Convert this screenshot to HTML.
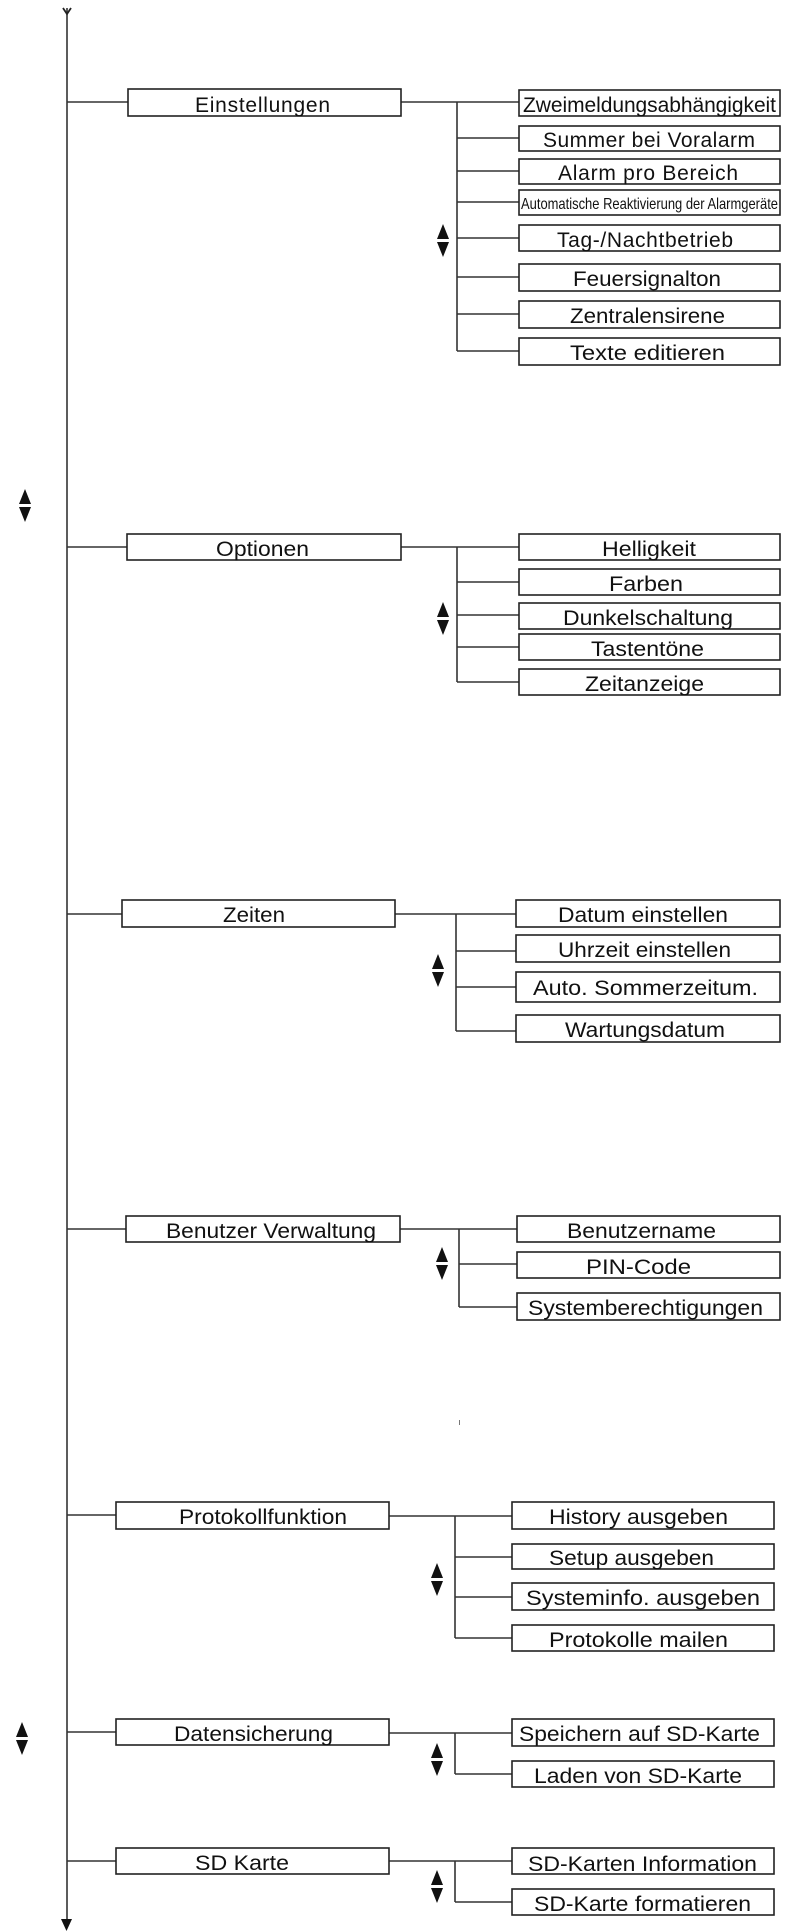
<!DOCTYPE html>
<html><head><meta charset="utf-8"><style>
html,body{margin:0;padding:0;background:#fff;}
svg{display:block;}
text{font-family:"Liberation Sans",Arial,sans-serif;font-size:21px;fill:#111;text-anchor:start;}
.b{fill:#fff;stroke:#222;stroke-width:1.6;}
.l{stroke:#333;stroke-width:1.6;fill:none;}
</style></head><body>
<svg width="790" height="1932" viewBox="0 0 790 1932" xmlns="http://www.w3.org/2000/svg">
<defs>
<g id="ud"><polygon points="-6,-1 0,-16 6,-1" fill="#111"/><polygon points="-6,2 0,17 6,2" fill="#111"/></g>
</defs>
<!-- trunk -->
<line class="l" x1="67" y1="8" x2="67" y2="1922"/>
<polyline points="63,8 67,14 71,8" fill="none" stroke="#222" stroke-width="1.8"/>
<polygon points="61,1919 72,1919 66.5,1931" fill="#111"/>
<use href="#ud" x="25" y="505"/>
<use href="#ud" x="22" y="1738"/>
<rect x="459" y="1420" width="1" height="5" fill="#777"/>

<!-- Einstellungen -->
<line class="l" x1="67" y1="102" x2="128" y2="102"/>
<line class="l" x1="401" y1="102" x2="519" y2="102"/>
<line class="l" x1="457" y1="102" x2="457" y2="351"/>
<line class="l" x1="457" y1="138" x2="519" y2="138"/>
<line class="l" x1="457" y1="171" x2="519" y2="171"/>
<line class="l" x1="457" y1="202" x2="519" y2="202"/>
<line class="l" x1="457" y1="238" x2="519" y2="238"/>
<line class="l" x1="457" y1="277" x2="519" y2="277"/>
<line class="l" x1="457" y1="314" x2="519" y2="314"/>
<line class="l" x1="457" y1="351" x2="519" y2="351"/>
<use href="#ud" x="443" y="240"/>
<rect class="b" x="128" y="89" width="273" height="27"/><text x="195" y="112" textLength="135">Einstellungen</text>
<rect class="b" x="519" y="90" width="261" height="26"/><text x="523" y="112" textLength="253">Zweimeldungsabhängigkeit</text>
<rect class="b" x="519" y="126" width="261" height="25"/><text x="543" y="147" textLength="212">Summer bei Voralarm</text>
<rect class="b" x="519" y="159" width="261" height="25"/><text x="558" y="180" textLength="180">Alarm pro Bereich</text>
<rect class="b" x="519" y="190" width="261" height="25"/><text x="521" y="209" style="font-size:16px" textLength="257" lengthAdjust="spacingAndGlyphs">Automatische Reaktivierung der Alarmgeräte</text>
<rect class="b" x="519" y="225" width="261" height="26"/><text x="557" y="247" textLength="176">Tag-/Nachtbetrieb</text>
<rect class="b" x="519" y="264" width="261" height="27"/><text x="573" y="286" textLength="148" lengthAdjust="spacingAndGlyphs">Feuersignalton</text>
<rect class="b" x="519" y="301" width="261" height="27"/><text x="570" y="323" textLength="155" lengthAdjust="spacingAndGlyphs">Zentralensirene</text>
<rect class="b" x="519" y="338" width="261" height="27"/><text x="570" y="360" textLength="155" lengthAdjust="spacingAndGlyphs">Texte editieren</text>

<!-- Optionen -->
<line class="l" x1="67" y1="547" x2="127" y2="547"/>
<line class="l" x1="401" y1="547" x2="519" y2="547"/>
<line class="l" x1="457" y1="547" x2="457" y2="682"/>
<line class="l" x1="457" y1="582" x2="519" y2="582"/>
<line class="l" x1="457" y1="615" x2="519" y2="615"/>
<line class="l" x1="457" y1="647" x2="519" y2="647"/>
<line class="l" x1="457" y1="682" x2="519" y2="682"/>
<use href="#ud" x="443" y="618"/>
<rect class="b" x="127" y="534" width="274" height="26"/><text x="216" y="556" textLength="93" lengthAdjust="spacingAndGlyphs">Optionen</text>
<rect class="b" x="519" y="534" width="261" height="26"/><text x="602" y="556" textLength="94" lengthAdjust="spacingAndGlyphs">Helligkeit</text>
<rect class="b" x="519" y="569" width="261" height="26"/><text x="609" y="591" textLength="74" lengthAdjust="spacingAndGlyphs">Farben</text>
<rect class="b" x="519" y="603" width="261" height="26"/><text x="563" y="625" textLength="170" lengthAdjust="spacingAndGlyphs">Dunkelschaltung</text>
<rect class="b" x="519" y="634" width="261" height="26"/><text x="591" y="656" textLength="113" lengthAdjust="spacingAndGlyphs">Tastentöne</text>
<rect class="b" x="519" y="669" width="261" height="26"/><text x="585" y="691" textLength="119" lengthAdjust="spacingAndGlyphs">Zeitanzeige</text>

<!-- Zeiten -->
<line class="l" x1="67" y1="914" x2="122" y2="914"/>
<line class="l" x1="395" y1="914" x2="516" y2="914"/>
<line class="l" x1="456" y1="914" x2="456" y2="1031"/>
<line class="l" x1="456" y1="951" x2="516" y2="951"/>
<line class="l" x1="456" y1="987" x2="516" y2="987"/>
<line class="l" x1="456" y1="1031" x2="516" y2="1031"/>
<use href="#ud" x="438" y="970"/>
<rect class="b" x="122" y="900" width="273" height="27"/><text x="223" y="922" textLength="62" lengthAdjust="spacingAndGlyphs">Zeiten</text>
<rect class="b" x="516" y="900" width="264" height="27"/><text x="558" y="922" textLength="170" lengthAdjust="spacingAndGlyphs">Datum einstellen</text>
<rect class="b" x="516" y="935" width="264" height="27"/><text x="558" y="957" textLength="173" lengthAdjust="spacingAndGlyphs">Uhrzeit einstellen</text>
<rect class="b" x="516" y="972" width="264" height="30"/><text x="533" y="995" textLength="225" lengthAdjust="spacingAndGlyphs">Auto. Sommerzeitum.</text>
<rect class="b" x="516" y="1015" width="264" height="27"/><text x="565" y="1037" textLength="160" lengthAdjust="spacingAndGlyphs">Wartungsdatum</text>

<!-- Benutzer Verwaltung -->
<line class="l" x1="67" y1="1229" x2="126" y2="1229"/>
<line class="l" x1="400" y1="1229" x2="517" y2="1229"/>
<line class="l" x1="459" y1="1229" x2="459" y2="1307"/>
<line class="l" x1="459" y1="1264" x2="517" y2="1264"/>
<line class="l" x1="459" y1="1307" x2="517" y2="1307"/>
<use href="#ud" x="442" y="1263"/>
<rect class="b" x="126" y="1216" width="274" height="26"/><text x="166" y="1238" textLength="210" lengthAdjust="spacingAndGlyphs">Benutzer Verwaltung</text>
<rect class="b" x="517" y="1216" width="263" height="26"/><text x="567" y="1238" textLength="149" lengthAdjust="spacingAndGlyphs">Benutzername</text>
<rect class="b" x="517" y="1252" width="263" height="26"/><text x="586" y="1274" textLength="105" lengthAdjust="spacingAndGlyphs">PIN-Code</text>
<rect class="b" x="517" y="1293" width="263" height="27"/><text x="528" y="1315" textLength="235" lengthAdjust="spacingAndGlyphs">Systemberechtigungen</text>

<!-- Protokollfunktion -->
<line class="l" x1="67" y1="1515" x2="116" y2="1515"/>
<line class="l" x1="389" y1="1516" x2="512" y2="1516"/>
<line class="l" x1="455" y1="1516" x2="455" y2="1638"/>
<line class="l" x1="455" y1="1557" x2="512" y2="1557"/>
<line class="l" x1="455" y1="1597" x2="512" y2="1597"/>
<line class="l" x1="455" y1="1638" x2="512" y2="1638"/>
<use href="#ud" x="437" y="1579"/>
<rect class="b" x="116" y="1502" width="273" height="27"/><text x="179" y="1524" textLength="168" lengthAdjust="spacingAndGlyphs">Protokollfunktion</text>
<rect class="b" x="512" y="1502" width="262" height="27"/><text x="549" y="1524" textLength="179" lengthAdjust="spacingAndGlyphs">History ausgeben</text>
<rect class="b" x="512" y="1544" width="262" height="25"/><text x="549" y="1565" textLength="165" lengthAdjust="spacingAndGlyphs">Setup ausgeben</text>
<rect class="b" x="512" y="1583" width="262" height="27"/><text x="526" y="1605" textLength="234" lengthAdjust="spacingAndGlyphs">Systeminfo. ausgeben</text>
<rect class="b" x="512" y="1625" width="262" height="26"/><text x="549" y="1647" textLength="179" lengthAdjust="spacingAndGlyphs">Protokolle mailen</text>

<!-- Datensicherung -->
<line class="l" x1="67" y1="1732" x2="116" y2="1732"/>
<line class="l" x1="389" y1="1733" x2="512" y2="1733"/>
<line class="l" x1="455" y1="1733" x2="455" y2="1774"/>
<line class="l" x1="455" y1="1774" x2="512" y2="1774"/>
<use href="#ud" x="437" y="1759"/>
<rect class="b" x="116" y="1719" width="273" height="26"/><text x="174" y="1741" textLength="159" lengthAdjust="spacingAndGlyphs">Datensicherung</text>
<rect class="b" x="512" y="1719" width="262" height="27"/><text x="519" y="1741" textLength="241" lengthAdjust="spacingAndGlyphs">Speichern auf SD-Karte</text>
<rect class="b" x="512" y="1761" width="262" height="26"/><text x="534" y="1783" textLength="208" lengthAdjust="spacingAndGlyphs">Laden von SD-Karte</text>

<!-- SD Karte -->
<line class="l" x1="67" y1="1861" x2="116" y2="1861"/>
<line class="l" x1="389" y1="1861" x2="512" y2="1861"/>
<line class="l" x1="455" y1="1861" x2="455" y2="1902"/>
<line class="l" x1="455" y1="1902" x2="512" y2="1902"/>
<use href="#ud" x="437" y="1886"/>
<rect class="b" x="116" y="1848" width="273" height="26"/><text x="195" y="1870" textLength="94" lengthAdjust="spacingAndGlyphs">SD Karte</text>
<rect class="b" x="512" y="1848" width="262" height="26"/><text x="528" y="1871" textLength="229" lengthAdjust="spacingAndGlyphs">SD-Karten Information</text>
<rect class="b" x="512" y="1889" width="262" height="26"/><text x="534" y="1911" textLength="217" lengthAdjust="spacingAndGlyphs">SD-Karte formatieren</text>
</svg>
</body></html>
